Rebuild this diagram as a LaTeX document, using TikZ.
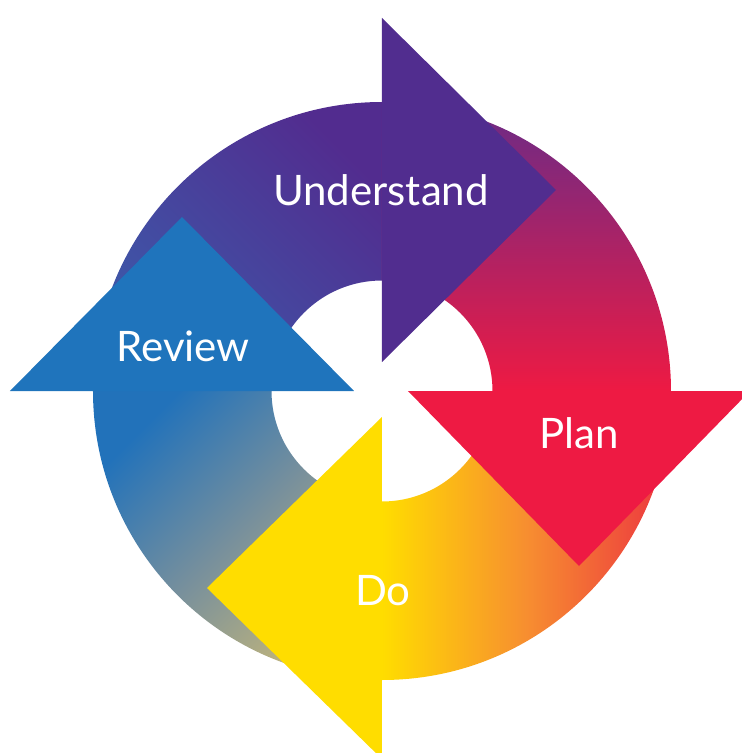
\documentclass[tikz,border=0pt]{standalone}
\usepackage{fontspec}
\setmainfont{Lato}

\definecolor{understandcol}{HTML}{512D8F}
\definecolor{reviewcol}{HTML}{1F74BC}
\definecolor{plancol}{HTML}{EE1A43}
\definecolor{docol}{HTML}{FFDD00}

\begin{document}
\begin{tikzpicture}[x=1pt,y=1pt]
  \tikzset{lbl/.style = {text=white, anchor=base, font=\fontsize{42pt}{50pt}\selectfont}} % label style

  \useasboundingbox (-382,-362) rectangle (360,391);

  % ring quarters
  \shade[bottom color={rgb,255:red,60;green,90;blue,170}, top color={rgb,255:red,82;green,44;blue,143}, shading angle=-45]
    (0,289) arc[start angle=90, end angle=180, radius=289pt] -- (-110.5,0)
    arc[start angle=180, end angle=90, radius=110.5pt] -- cycle;
  \shade[top color={rgb,255:red,106;green,43;blue,135}, bottom color={rgb,255:red,238;green,26;blue,67}]
    (289,0) arc[start angle=0, end angle=90, radius=289pt] -- (0,110.5)
    arc[start angle=90, end angle=0, radius=110.5pt] -- cycle;
  \shade[left color=docol, right color={rgb,255:red,236;green,52;blue,64}, middle color={rgb,255:red,247;green,142;blue,48}]
    (0,-289) arc[start angle=-90, end angle=0, radius=289pt] -- (110.5,0)
    arc[start angle=0, end angle=-90, radius=110.5pt] -- cycle;
  \shade[bottom color={rgb,255:red,200;green,184;blue,120}, top color={rgb,255:red,34;green,114;blue,186}, middle color={rgb,255:red,120;green,144;blue,156}, shading angle=45]
    (-289,0) arc[start angle=180, end angle=270, radius=289pt] -- (0,-110.5)
    arc[start angle=270, end angle=180, radius=110.5pt] -- cycle;

  % arrow heads
  \fill[understandcol] (0,29) -- (0,373) -- (174,201) -- cycle;
  \fill[reviewcol] (-372,0) -- (-28,0) -- (-200,174) -- cycle;
  \fill[plancol] (26,0) -- (368,0) -- (197,-175) -- cycle;
  \fill[docol] (0,-26) -- (0,-368) -- (-175,-197) -- cycle;

  % labels
  \node[lbl] (understand) at (-1,185.5) {Understand};
  \node[lbl] (review) at (-199,30) {Review};
  \node[lbl] (plan) at (197,-57) {Plan};
  \node[lbl] (do) at (1,-214) {Do};

\end{tikzpicture}
\end{document}
